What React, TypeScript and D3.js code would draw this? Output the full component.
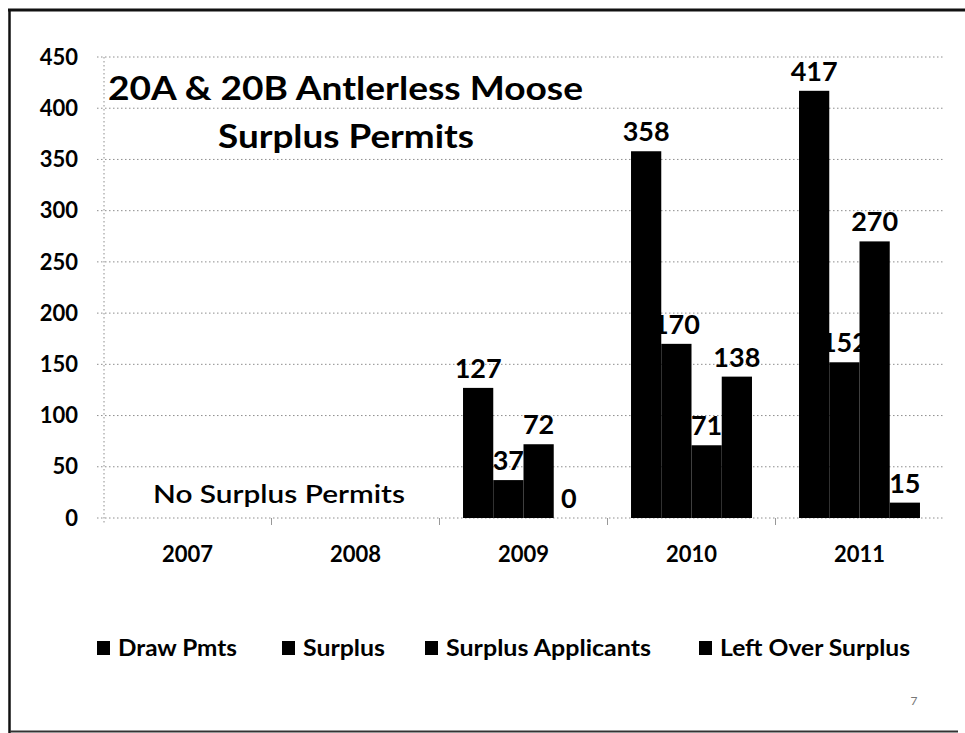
import React from "react";
import * as d3 from "d3";

const years = ["2007", "2008", "2009", "2010", "2011"];
const seriesNames = ["Draw Pmts", "Surplus", "Surplus Applicants", "Left Over Surplus"];
const drawPmts: (number | null)[] = [null, null, 127, 358, 417];
const surplus: (number | null)[] = [null, null, 37, 170, 152];
const surplusApplicants: (number | null)[] = [null, null, 72, 71, 270];
const leftOverSurplus: (number | null)[] = [null, null, 0, 138, 15];
const yTicks = [0, 50, 100, 150, 200, 250, 300, 350, 400, 450];
const titleLines = ["20A & 20B Antlerless Moose", "Surplus Permits"];
const noteText = "No Surplus Permits";

const W = 965;
const H = 733;
const FONT = "Lato, 'Open Sans', 'DejaVu Sans', sans-serif";

export default function App() {
  const seriesValues = [drawPmts, surplus, surplusApplicants, leftOverSurplus];
  const y = d3.scaleLinear().domain([0, 450]).range([518, 57]);
  const x0 = d3
    .scaleBand<string>()
    .domain(years)
    .range([103.5, 943.5])
    .paddingInner(0.28)
    .paddingOuter(0.14);
  const x1 = d3
    .scaleBand<string>()
    .domain(seriesNames)
    .range([0, x0.bandwidth()]);
  const step = x0.step();
  const plotLeft = 103.5;
  const plotRight = 943.5;

  const legendX = [97, 282, 425, 699];
  const legendTextLen = [119, 82, 205, 190];

  return (
    <svg
      width={W}
      height={H}
      style={{ position: "absolute", left: 0, top: 0, display: "block", background: "#fff" }}
      fontFamily={FONT}
    >
      <rect x={0} y={0} width={W} height={H} fill="#fff" />
      {/* frame */}
      <line x1={8} x2={W} y1={10} y2={10} stroke="#111" strokeWidth={3} />
      <line x1={9.5} x2={9.5} y1={9} y2={H} stroke="#111" strokeWidth={2.5} />
      <line x1={10} x2={958} y1={731.5} y2={731.5} stroke="#333" strokeWidth={2} />

      {/* gridlines */}
      {yTicks.map((t) => (
        <line
          key={"g" + t}
          x1={97}
          x2={plotRight}
          y1={y(t)}
          y2={y(t)}
          stroke="#444"
          strokeWidth={1}
          strokeDasharray="1.5 2.5"
          opacity={0.6}
        />
      ))}
      {/* y axis */}
      <line
        x1={104}
        x2={104}
        y1={y(450)}
        y2={y(0) + 6}
        stroke="#444"
        strokeWidth={1}
        strokeDasharray="1.5 2.5"
        opacity={0.6}
      />
      {/* category tick marks */}
      {years.map((yr, i) =>
        i === 0 ? null : (
          <line
            key={"ct" + yr}
            x1={plotLeft + i * step}
            x2={plotLeft + i * step}
            y1={y(0)}
            y2={y(0) + 7}
            stroke="#555"
            strokeWidth={1}
            opacity={0.6}
          />
        )
      )}

      {/* y tick labels */}
      {yTicks.map((t) => (
        <text
          key={"yl" + t}
          x={78}
          y={y(t)}
          dy="0.35em"
          textAnchor="end"
          fontSize={22}
          fontWeight={700}
          fill="#000"
        >
          {t}
        </text>
      ))}

      {/* x labels */}
      {years.map((yr) => (
        <text
          key={"xl" + yr}
          x={(x0(yr) as number) + x0.bandwidth() / 2}
          y={562}
          textAnchor="middle"
          fontSize={22}
          fontWeight={700}
          fill="#000"
        >
          {yr}
        </text>
      ))}

      {/* data labels */}
      {years.map((yr, i) =>
        seriesNames.map((s, j) => {
          const v = seriesValues[j][i];
          if (v === null) return null;
          const cx = (x0(yr) as number) + (x1(s) as number) + x1.bandwidth() / 2;
          return (
            <text
              key={"dl" + yr + s}
              x={cx}
              y={y(v) - 10}
              textAnchor="middle"
              fontSize={27}
              fontWeight={700}
              fill="#000"
            >
              {v}
            </text>
          );
        })
      )}

      {/* bars */}
      {years.map((yr, i) =>
        seriesNames.map((s, j) => {
          const v = seriesValues[j][i];
          if (v === null) return null;
          const bx = (x0(yr) as number) + (x1(s) as number);
          return (
            <rect
              key={"b" + yr + s}
              x={bx}
              y={y(v)}
              width={x1.bandwidth()}
              height={y(0) - y(v)}
              fill="#000"
            />
          );
        })
      )}

      {/* title */}
      <text x={345.5} y={100} textAnchor="middle" fontSize={33} fontWeight={700} fill="#000" textLength={475} lengthAdjust="spacingAndGlyphs">
        {titleLines[0]}
      </text>
      <text x={346} y={148} textAnchor="middle" fontSize={33} fontWeight={700} fill="#000" textLength={256} lengthAdjust="spacingAndGlyphs">
        {titleLines[1]}
      </text>

      {/* note */}
      <text x={279} y={503} textAnchor="middle" fontSize={25} fontWeight={600} fill="#000" textLength={252} lengthAdjust="spacingAndGlyphs">
        {noteText}
      </text>

      {/* legend */}
      {seriesNames.map((s, j) => (
        <g key={"lg" + s}>
          <rect x={legendX[j]} y={641} width={13} height={14} fill="#000" />
          <text
            x={legendX[j] + 21}
            y={656}
            fontSize={22}
            fontWeight={700}
            fill="#000"
            textLength={legendTextLen[j]}
            lengthAdjust="spacingAndGlyphs"
          >
            {s}
          </text>
        </g>
      ))}

      {/* page number */}
      <text x={914} y={705} textAnchor="middle" fontSize={12} fill="#777">
        7
      </text>
    </svg>
  );
}
